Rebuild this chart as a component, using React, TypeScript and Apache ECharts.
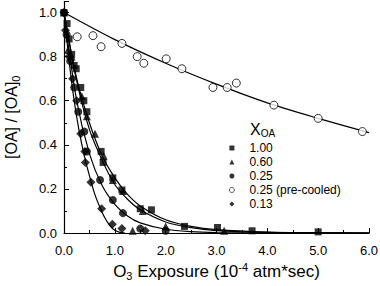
import React, { useEffect, useRef } from "react";
import * as echarts from "echarts";

// Data points: [O3 exposure (1e-4 atm*sec), [OA]/[OA]0]
const xoa100: number[][] = [[0, 1.0], [0.06, 0.95], [0.1, 0.88], [0.15, 0.81], [0.2, 0.76], [0.24, 0.745], [0.33, 0.66], [0.39, 0.6], [0.45, 0.55], [0.73, 0.37], [0.77, 0.32], [0.96, 0.25], [1.14, 0.195], [1.5, 0.11], [1.72, 0.105], [2.37, 0.03], [3.02, 0.025], [3.7, 0.01], [5.0, 0.005]];
const xoa060: number[][] = [[0, 1.0], [0.08, 0.83], [0.15, 0.8], [0.35, 0.62], [0.45, 0.53], [0.61, 0.45], [0.78, 0.35], [0.96, 0.24], [1.16, 0.19], [1.35, 0.01], [1.55, 0.1], [2.0, 0.03], [3.15, 0.01]];
const xoa025: number[][] = [[0, 1.0], [0.05, 0.9], [0.12, 0.78], [0.2, 0.66], [0.28, 0.55], [0.4, 0.46], [0.45, 0.37], [0.71, 0.24], [0.96, 0.15], [1.16, 0.09], [1.5, 0.02], [2.0, 0.01]];
const xoa025cool: number[][] = [[0.26, 0.89], [0.57, 0.895], [0.73, 0.845], [1.14, 0.86], [1.44, 0.8], [1.57, 0.77], [2.01, 0.79], [2.32, 0.745], [2.93, 0.66], [3.21, 0.66], [3.39, 0.68], [4.13, 0.58], [5.0, 0.52], [5.87, 0.46]];
const xoa013: number[][] = [[0, 1.0], [0.03, 0.92], [0.1, 0.8], [0.17, 0.7], [0.25, 0.6], [0.33, 0.45], [0.41, 0.37], [0.42, 0.32], [0.53, 0.23], [0.74, 0.11], [0.95, 0.04], [1.14, 0.02], [1.6, 0.01]];

// Fitted curves
const fit100: number[][] = [[0, 1], [0.25, 0.7], [0.5, 0.5], [0.75, 0.35], [1.0, 0.25], [1.25, 0.175], [1.5, 0.123], [2.0, 0.06], [2.5, 0.03], [3.0, 0.015], [4.0, 0.004], [5.0, 0.001], [6.0, 0]];
const fit060: number[][] = [[0, 1], [0.25, 0.69], [0.5, 0.47], [0.75, 0.33], [1.0, 0.22], [1.25, 0.153], [1.5, 0.105], [2.0, 0.05], [2.5, 0.024], [3.0, 0.011], [4.0, 0.003], [5.0, 0.001], [6.0, 0]];
const fit025: number[][] = [[0, 1], [0.25, 0.6], [0.5, 0.36], [0.75, 0.215], [1.0, 0.13], [1.25, 0.077], [1.5, 0.046], [2.0, 0.017], [2.5, 0.006], [3.0, 0.002], [4.0, 0], [6.0, 0]];
const fit013: number[][] = [[0, 1], [0.1, 0.78], [0.2, 0.6], [0.3, 0.46], [0.4, 0.35], [0.5, 0.26], [0.6, 0.18], [0.7, 0.12], [0.8, 0.07], [0.9, 0.035], [1.0, 0.012], [1.1, 0.003], [1.2, 0]];
const fitCool: number[][] = [[0, 1], [1, 0.877], [2, 0.77], [3, 0.675], [4, 0.59], [5, 0.52], [6, 0.455]];

const legendNames = ["1.00", "0.60", "0.25", "0.25 (pre-cooled)", "0.13"];
const xTicks = [0, 1, 2, 3, 4, 5, 6];
const yTicks = [0, 0.2, 0.4, 0.6, 0.8, 1.0];

const FONT = "'Liberation Sans', Arial, sans-serif";

export default function App() {
  const ref = useRef<HTMLDivElement>(null);
  useEffect(() => {
    if (!ref.current) return;
    const chart = echarts.init(ref.current, undefined, { renderer: "svg" });
    const lineStyle = { color: "#000", width: 1.2 };
    const fitSeries = (data: number[][]) => ({
      type: "line",
      data,
      smooth: 0.3,
      showSymbol: false,
      symbol: "none",
      lineStyle,
      z: 1,
      silent: true,
    });
    const scat = (name: string, data: number[][], symbol: string, size: number, open = false) => ({
      type: "scatter",
      name,
      data,
      symbol,
      symbolSize: size,
      itemStyle: open
        ? { color: "#fff", borderColor: "#000", borderWidth: 1 }
        : { color: "#000", borderWidth: 0 },
      z: 3,
    });
    chart.setOption({
      animation: false,
      backgroundColor: "#fff",
      textStyle: { fontFamily: FONT, color: "#000" },
      grid: { left: 64, right: 11, top: 1.5, bottom: 53, outerBoundsMode: "none", containLabel: false },
      xAxis: {
        type: "value",
        min: xTicks[0],
        max: xTicks[xTicks.length - 1],
        interval: 1,
        axisLine: { lineStyle: { color: "#000", width: 1.2 } },
        axisTick: { inside: true, length: 5, lineStyle: { color: "#000" } },
        minorTick: { show: true, splitNumber: 2, length: 3, lineStyle: { color: "#000" } },
        splitLine: { show: false },
        axisLabel: { color: "#000", fontSize: 13, fontFamily: FONT, margin: 11, formatter: (v: number) => v.toFixed(1) },
        name: "O{sub|3} Exposure (10{sup|-4} atm*sec)",
        nameLocation: "middle",
        nameGap: 28,
        nameTextStyle: {
          color: "#000",
          fontSize: 17,
          fontFamily: FONT,
          rich: {
            sub: { fontSize: 11, fontFamily: FONT, verticalAlign: "bottom", padding: [9, 0, 0, 0], color: "#000" },
            sup: { fontSize: 11, fontFamily: FONT, verticalAlign: "top", padding: [0, 0, 9, 0], color: "#000" },
          },
        },
      },
      yAxis: {
        type: "value",
        min: yTicks[0],
        max: 1.05,
        interval: 0.2,
        axisLine: { show: true, lineStyle: { color: "#000", width: 1.2 } },
        axisTick: { show: true, inside: true, length: 5, lineStyle: { color: "#000" } },
        minorTick: { show: true, splitNumber: 2, length: 3, lineStyle: { color: "#000" } },
        splitLine: { show: false },
        axisLabel: {
          color: "#000",
          fontSize: 13,
          fontFamily: FONT,
          margin: 7,
          showMaxLabel: false,
          formatter: (v: number) => (yTicks.some((t) => Math.abs(t - v) < 1e-6) ? v.toFixed(1) : ""),
        },
        name: "[OA] / [OA]{sub|0}",
        nameLocation: "middle",
        nameRotate: 90,
        nameGap: 43,
        nameTextStyle: {
          color: "#000",
          fontSize: 16,
          fontFamily: FONT,
          rich: {
            sub: { fontSize: 11, fontFamily: FONT, verticalAlign: "bottom", padding: [8, 0, 0, 0], color: "#000" },
          },
        },
      },
      legend: {
        data: legendNames,
        orient: "vertical",
        left: 229,
        top: 141,
        itemWidth: 5,
        itemHeight: 5,
        itemGap: 0,
        padding: 0,
        itemStyle: { borderWidth: 0.8 },
        textStyle: { fontSize: 12, fontFamily: FONT, color: "#000", lineHeight: 14, padding: [0, 0, 0, 10] },
        selectedMode: false,
      },
      graphic: [
        {
          type: "text",
          left: 250,
          top: 121,
          style: {
            text: "X{sub|OA}",
            font: "16px " + FONT,
            fill: "#000",
            rich: { sub: { fontSize: 10, fontFamily: FONT, verticalAlign: "bottom", padding: [9, 0, 0, 0], fill: "#000" } },
          },
        },
      ],
      series: [
        fitSeries(fit100),
        fitSeries(fit060),
        fitSeries(fit025),
        fitSeries(fit013),
        fitSeries(fitCool),
        scat(legendNames[0], xoa100, "rect", 7),
        scat(legendNames[1], xoa060, "triangle", 8),
        scat(legendNames[2], xoa025, "circle", 8),
        scat(legendNames[3], xoa025cool, "circle", 8, true),
        scat(legendNames[4], xoa013, "diamond", 9),
      ],
    });
    return () => chart.dispose();
  }, []);
  return <div ref={ref} style={{ width: 380, height: 286, position: "absolute", left: 0, top: 0 }} />;
}
